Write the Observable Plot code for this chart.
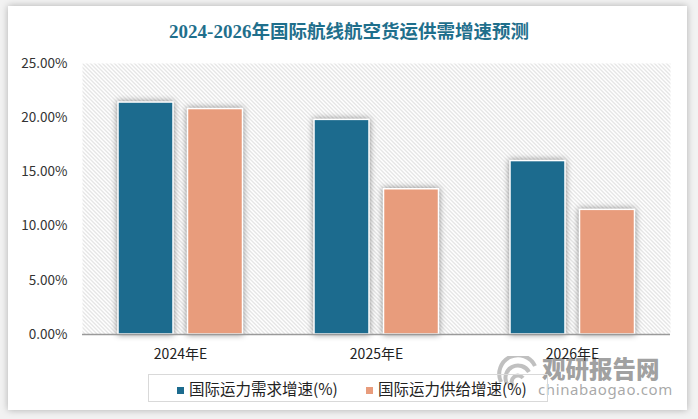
<!DOCTYPE html>
<html>
<head>
<meta charset="utf-8">
<script src="https://cdn.jsdelivr.net/npm/d3@7"></script>
<script src="https://cdn.jsdelivr.net/npm/@observablehq/plot@0.6"></script>
<style>
  html, body { margin: 0; padding: 0; background: #ffffff; }
  #page { position: relative; width: 698px; height: 419px; overflow: hidden; background: #f2f2f2; }
  #card { position: absolute; left: 8px; top: 6px; width: 679px; height: 404px; background: #fff;
          box-shadow: 0 0 7px rgba(0,0,0,0.28); }
  #title { position: absolute; left: 0; top: 18px; width: 698px; text-align: center;
           font-family: "Liberation Serif", "Noto Sans CJK SC", serif; font-weight: bold;
           font-size: 19px; line-height: 24px; color: #1f6f8c; }
  #title .cjk { font-family: "Noto Sans CJK SC", sans-serif; font-size: 18.5px; }
  #chart { position: absolute; left: 0; top: 45px; }
  #legend { position: absolute; left: 148px; top: 374px; width: 400px; height: 28px;
            border: 1px solid #d9d9d9; box-sizing: border-box;
            font-family: "Noto Sans CJK SC", sans-serif; font-size: 15.5px; color: #222; }
  .item { position: absolute; top: 0; height: 28px; line-height: 27px; white-space: nowrap; }
  .sw { display: inline-block; width: 7px; height: 7px; margin-right: 5px; vertical-align: 1px; }
  #wm { position: absolute; left: 495px; top: 352px; width: 180px; height: 50px; }
  #wm1 { position: absolute; left: 542px; top: 353px; font-family: "Noto Sans CJK SC", sans-serif;
         font-weight: 900; font-size: 23.5px; line-height: 30px; color: rgba(130,130,130,0.75); letter-spacing: 0px; }
  #wm2 { position: absolute; left: 538px; top: 379px; font-family: "Noto Sans", sans-serif;
         font-size: 15px; line-height: 20px; color: rgba(140,140,140,0.75); letter-spacing: 0.6px; }
  g[aria-label="bar"] rect { filter: drop-shadow(0 0 3px rgba(0,0,0,0.45)); }
</style>
</head>
<body>
<div id="page">
  <div id="card"></div>
  <div id="title">2024-2026<span class="cjk">年国际航线航空货运供需增速预测</span></div>
  <svg id="wm" width="60" height="40" viewBox="0 0 60 40" style="left:495px;top:356px;width:60px;height:40px;">
    <g fill="none" stroke="rgba(150,150,150,0.6)" stroke-width="4">
      <path d="M6,26 A16,16 0 0 1 40,10"/>
      <path d="M12,28 A11,11 0 0 1 34,16"/>
      <path d="M18,30 A6,6 0 0 1 28,22"/>
    </g>
  </svg>
  <div id="wm1">观研报告网</div>
  <div id="wm2">chinabaogao.com</div>
  <div id="chart"></div>
  <div id="legend"></div>
</div>
<script>
const categories = ["2024年E", "2025年E", "2026年E"];
const series = ["国际运力需求增速(%)", "国际运力供给增速(%)"];
const demand = [21.4, 19.8, 16.0];
const supply = [20.8, 13.4, 11.5];
const yTicks = [0, 5, 10, 15, 20, 25];
const colors = ["#1c6b8e", "#e89c7c"];

const demandRows = categories.map((c, i) => ({category: c, series: series[0], value: demand[i]}));
const supplyRows = categories.map((c, i) => ({category: c, series: series[1], value: supply[i]}));

const hatchDefs = () => {
  const g = d3.create("svg:g");
  const p = g.append("defs").append("pattern")
    .attr("id", "hatch").attr("patternUnits", "userSpaceOnUse")
    .attr("width", 4).attr("height", 4);
  p.append("rect").attr("width", 4).attr("height", 4).attr("fill", "#ffffff");
  p.append("path").attr("d", "M-1,-1 L5,5 M-1,3 L1,5 M3,-1 L5,1")
    .attr("stroke", "#cdcdcd").attr("stroke-width", 1);
  return g.node();
};

const chart = Plot.plot({
  width: 698,
  height: 327,
  marginLeft: 82,
  marginRight: 28,
  marginTop: 18,
  marginBottom: 38,
  style: {fontFamily: "'Noto Sans CJK SC', 'Noto Sans', sans-serif", fontSize: "13px", color: "#333", background: "transparent"},
  x: {type: "band", domain: categories, padding: 0, axis: null},
  y: {domain: [0, 25], axis: null},
  color: {domain: series, range: colors},
  marks: [
    hatchDefs,
    Plot.frame({fill: "url(#hatch)", stroke: null}),
    Plot.axisY({ticks: yTicks, tickSize: 0, tickPadding: 15, tickFormat: d => d.toFixed(2) + "%", label: null, fontSize: 13.5, fill: "#333"}),
    Plot.axisX({tickSize: 0, tickPadding: 15, label: null, fontSize: 14, fill: "#222"}),
    Plot.barY(demandRows, {x: "category", y: "value", fill: "series", stroke: "white", strokeWidth: 1.5, insetLeft: 36, insetRight: 105}),
    Plot.barY(supplyRows, {x: "category", y: "value", fill: "series", stroke: "white", strokeWidth: 1.5, insetLeft: 105.5, insetRight: 35.5}),
    Plot.ruleY([0], {stroke: "#9a9a9a", strokeWidth: 1.5})
  ]
});
document.getElementById("chart").appendChild(chart);

const colorScale = chart.scale("color");
const legend = document.getElementById("legend");
const itemLefts = [28, 217];
series.forEach((s, i) => {
  const item = document.createElement("div");
  item.className = "item";
  item.style.left = itemLefts[i] + "px";
  const sw = document.createElement("span");
  sw.className = "sw";
  sw.style.background = colorScale.apply(s);
  item.appendChild(sw);
  item.appendChild(document.createTextNode(s));
  legend.appendChild(item);
});
</script>
</body>
</html>
